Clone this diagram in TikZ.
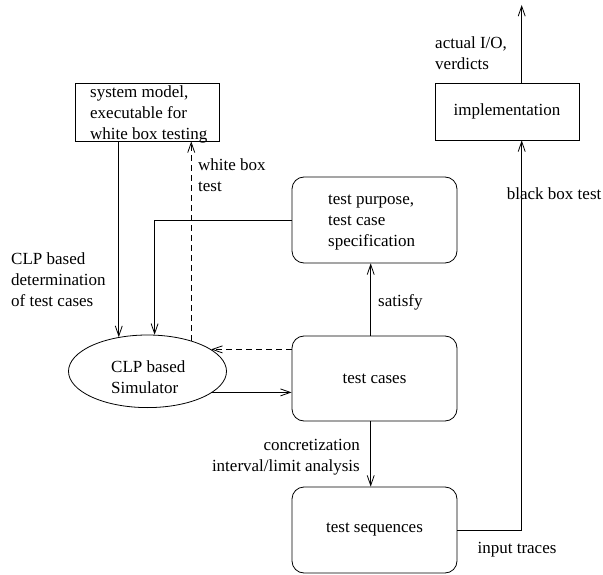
\documentclass[tikz,border=0pt]{standalone}
\usepackage{fontspec}
\setmainfont{Liberation Serif}
\usetikzlibrary{shapes.geometric,arrows.meta}
\begin{document}
\begin{tikzpicture}[x=1pt,y=-1pt,
  every node/.style={font=\fontsize{17}{21}\selectfont, inner sep=0pt},
  box/.style={draw, line width=0.8pt, rectangle},
  rbox/.style={draw, line width=0.8pt, rectangle, rounded corners=12pt, minimum width=165pt},
  conn/.style={line width=0.8pt, -{Straight Barb[length=10pt,width=7pt]}},
  dconn/.style={conn, dash pattern=on 6pt off 4pt},
  lbl/.style={align=left, anchor=west}]
\useasboundingbox (0,0) rectangle (603,575);
% boxes
\node[box, minimum width=144pt, minimum height=58pt] (sm) at (147,112) {};
\node[lbl] (smt) at (90,114) {system model,\\executable for\\white box testing};
\node[box, minimum width=144pt, minimum height=57pt] (impl) at (507,111.5) {implementation};
\node[rbox, minimum height=86pt] (tp) at (374.5,220) {};
\node[lbl] (tpt) at (328,222.5) {test purpose,\\test case\\specification};
\node[rbox, minimum height=85pt] (tc) at (374.5,378.5) {test cases};
\node[rbox, minimum height=86pt] (ts) at (374.5,530) {test sequences};
\node[draw, line width=0.8pt, ellipse, minimum width=158pt, minimum height=72.6pt] (sim) at (147.5,371.3) {};
\node[lbl] (simt) at (111,377) {CLP based\\Simulator};
% connectors
\draw[conn] (sm.south -| sim.130.6) -- (sim.130.6);
\draw[conn] (tp.west) -| (sim.79.8);
\draw[dconn] (sim.35.1) -- (sim.35.1 |- sm.south);
\draw[dconn] (tc.west |- sim.19.3) -- (sim.19.3);
\draw[conn] (sim.-18.1) -- (sim.-18.1 -| tc.west);
\draw[conn] ([xshift=-3.8pt]tc.north) -- ([xshift=-3.8pt]tp.south);
\draw[conn] ([xshift=-3.8pt]tc.south) -- ([xshift=-3.8pt]ts.north);
\draw[conn] (ts.east) -| ([xshift=14.7pt]impl.south);
\coordinate (out) at (521.7,5);
\draw[conn] ([xshift=14.7pt]impl.north) -- (out);
% labels
\node[lbl] (l1) at (198,175.5) {white box\\test};
\node[lbl] (l2) at (11,279.3) {CLP based\\determination\\of test cases};
\node[lbl] (l3) at (378,302.7) {satisfy};
\node[align=right, anchor=east] (l4) at (360,457) {concretization\\interval/limit analysis};
\node (l5) at (517,550) {input traces};
\node[lbl] (l6) at (506.7,193.3) {black box test};
\node[lbl] (l7) at (435,53) {actual I/O,\\verdicts};
\end{tikzpicture}
\end{document}
